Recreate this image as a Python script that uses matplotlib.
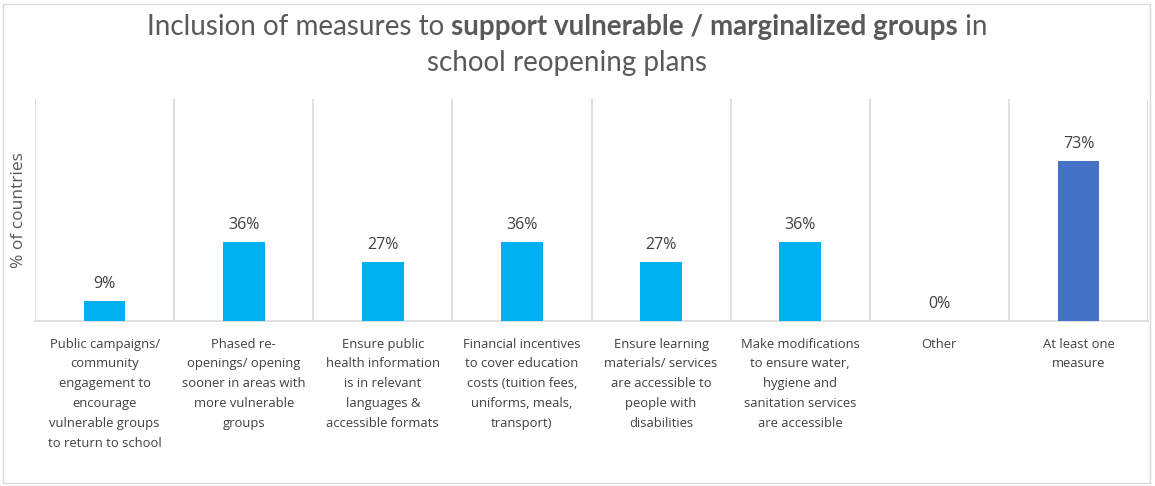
import matplotlib
matplotlib.use("Agg")
import matplotlib.pyplot as plt
from matplotlib.patches import Rectangle

categories = [
    "Public campaigns/\ncommunity\nengagement to\nencourage\nvulnerable groups\nto return to school",
    "Phased re-\nopenings/ opening\nsooner in areas with\nmore vulnerable\ngroups",
    "Ensure public\nhealth information\nis in relevant\nlanguages &\naccessible formats",
    "Financial incentives\nto cover education\ncosts (tuition fees,\nuniforms, meals,\ntransport)",
    "Ensure learning\nmaterials/ services\nare accessible to\npeople with\ndisabilities",
    "Make modifications\nto ensure water,\nhygiene and\nsanitation services\nare accessible",
    "Other",
    "At least one\nmeasure",
]
values = [9, 36, 27, 36, 27, 36, 0, 73]
bar_colors = ["#00B0F0"] * 7 + ["#4472C4"]

W, H = 1155, 486
fig = plt.figure(figsize=(W / 100, H / 100), dpi=100)
fig.patch.set_facecolor("white")
fig.patches.append(Rectangle((3 / W, 3 / H), 1147 / W, 479 / H, transform=fig.transFigure,
                             fill=False, edgecolor="#D9D9D9", linewidth=1))

ax = fig.add_axes([35 / W, 1 - 321 / H, 1113 / W, 222 / H])
x = list(range(len(values)))
ax.bar(x, values, width=0.3, color=bar_colors, zorder=3)
ax.set_xlim(-0.5, len(values) - 0.5)
ax.set_ylim(0, 101)
for sp in ["top", "right", "left"]:
    ax.spines[sp].set_visible(False)
ax.spines["bottom"].set_color("#D9D9D9")
ax.spines["bottom"].set_linewidth(1.2)
ax.set_yticks([])
for i in range(len(values) + 1):
    ax.axvline(i - 0.5, color="#D9D9D9", linewidth=1.2, zorder=1)
ax.set_xticks(x)
ax.set_xticklabels(categories, fontsize=9.4, color="#404040", family="Open Sans",
                   linespacing=1.68, va="top")
ax.tick_params(axis="x", length=0, pad=12)
for xi, v in zip(x, values):
    ax.text(xi, v + 4, f"{v}%", ha="center", va="bottom", fontsize=11.5,
            color="#404040", family="Open Sans")
ax.set_ylabel("% of countries", fontsize=12.5, color="#595959", family="Open Sans", labelpad=6)

# Title with mixed weight
renderer = fig.canvas.get_renderer()
tcolor = "#595959"
tsize = 20
parts = [("Inclusion of measures to ", "normal"),
         ("support vulnerable / marginalized groups", "bold"),
         (" in", "normal")]
texts = []
for s, w in parts:
    t = fig.text(0, 1 - 27 / H, s, fontsize=tsize, fontweight=w, color=tcolor,
                 family="Lato", va="center", ha="left")
    texts.append(t)
widths = [t.get_window_extent(renderer).width for t in texts]
total = sum(widths)
xstart = 567 - total / 2
for t, wd in zip(texts, widths):
    t.set_x(xstart / W)
    xstart += wd
fig.text(567 / W, 1 - 63 / H, "school reopening plans", fontsize=tsize, fontweight="normal",
         color=tcolor, family="Lato", va="center", ha="center")

fig.savefig("out.png", dpi=100, facecolor="white")
